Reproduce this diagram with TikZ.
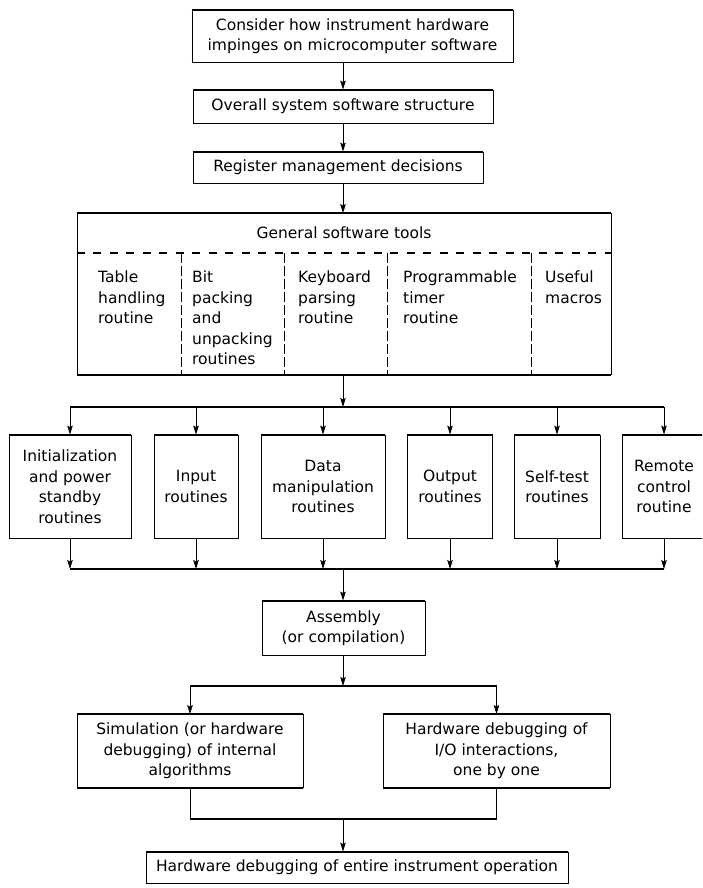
\documentclass[tikz,border=0pt]{standalone}
\usepackage{fontspec}
\setmainfont{DejaVu Sans}
\usetikzlibrary{arrows.meta}
\newcommand{\boxfont}{\fontsize{15.5}{20.5}\selectfont}
\begin{document}
\begin{tikzpicture}[x=1pt,y=-1pt,
  box/.style={draw, line width=0.8pt, inner sep=0pt, align=center, font=\boxfont},
  hedge/.style={line width=1.7pt},
  txt/.style={inner sep=0pt, align=left, font=\boxfont, anchor=north west},
  conn/.style={line width=0.8pt},
  bus/.style={line width=1.6pt},
  arr/.style={line width=0.8pt, -{Stealth[length=9pt,width=5.5pt,inset=1.5pt]}},
  divider/.style={line width=0.6pt, dash pattern=on 10pt off 3pt},
  dashsep/.style={line width=1.6pt, dash pattern=on 8pt off 8.5pt}
]
\clip (0,0) rectangle (702,888);
\fill[white] (0,0) rectangle (702,888);

% spine
\coordinate (sp) at (343,0);

% top chain
\node[box, minimum width=321pt, minimum height=52pt] (b1) at (352.5,36)
  {Consider how instrument hardware\\impinges on microcomputer software};
\node[box, minimum width=300pt, minimum height=33pt] (b2) at (343,106.5)
  {Overall system software structure};
\node[box, minimum width=290pt, minimum height=31pt] (b3) at (338,167.5)
  {Register management decisions};

% general tools box
\node[box, minimum width=534pt, minimum height=161pt] (tools) at (344,294) {};
\node[inner sep=0pt, font=\boxfont] (gst) at (344,233) {General software tools};
\coordinate (dl) at (0,253);
\draw[dashsep] (tools.west |- dl) -- (tools.east |- dl);
\foreach \x in {181,284,387,531}
  \draw[divider] (\x,253) -- (\x,374);
\node[txt] (t1) at (98,271)  {Table\\handling\\routine};
\node[txt] (t2) at (192,271) {Bit\\packing\\and\\unpacking\\routines};
\node[txt] (t3) at (298,271) {Keyboard\\parsing\\routine};
\node[txt] (t4) at (403,271) {Programmable\\timer\\routine};
\node[txt] (t5) at (545,271) {Useful\\macros};

% six routine boxes
\node[box, minimum width=122pt, minimum height=103pt] (r1) at (70,486.5)
  {Initialization\\and power\\standby\\routines};
\node[box, minimum width=84pt, minimum height=103pt] (r2) at (196,486.5)
  {Input\\routines};
\node[box, minimum width=124pt, minimum height=103pt] (r3) at (323,486.5)
  {Data\\manipulation\\routines};
\node[box, minimum width=85pt, minimum height=103pt] (r4) at (450,486.5)
  {Output\\routines};
\node[box, minimum width=86pt, minimum height=103pt] (r5) at (557,486.5)
  {Self-test\\routines};
\node[box, minimum width=84pt, minimum height=103pt] (r6) at (664,486.5)
  {Remote\\control\\routine};

% assembly
\node[box, minimum width=163pt, minimum height=54pt] (asm) at (343.5,628)
  {Assembly\\(or compilation)};

% debugging boxes
\node[box, minimum width=226pt, minimum height=73pt] (sim) at (190,751)
  {Simulation (or hardware\\debugging) of internal\\algorithms};
\node[box, minimum width=227pt, minimum height=73pt] (hw) at (496.5,751)
  {Hardware debugging of\\I/O interactions,\\one by one};

% final
\node[box, minimum width=422pt, minimum height=31pt] (fin) at (357,867.5)
  {Hardware debugging of entire instrument operation};

% thick horizontal edges
\foreach \n in {b1,b2,b3,tools,r1,r2,r3,r4,r5,r6,asm,sim,hw,fin}
  \draw[hedge] (\n.north west) -- (\n.north east) (\n.south west) -- (\n.south east);

% connectors top chain
\draw[arr] (b1.south -| sp) -- (b2.north -| sp);
\draw[arr] (b2.south -| sp) -- (b3.north -| sp);
\draw[arr] (b3.south -| sp) -- (tools.north -| sp);

% bus A
\coordinate (busA) at (0,407);
\draw[arr] (tools.south -| sp) -- (sp |- busA);
\draw[bus] (r1.north |- busA) -- (r6.north |- busA);
\foreach \r in {r1,r2,r3,r4,r5,r6}
  \draw[arr] (\r.north |- busA) -- (\r.north);

% bus B
\coordinate (busB) at (0,569);
\foreach \r in {r1,r2,r3,r4,r5,r6}
  \draw[arr] (\r.south) -- (\r.south |- busB);
\draw[bus] (r1.south |- busB) -- (r6.south |- busB);
\draw[arr] (sp |- busB) -- (asm.north -| sp);

% bus C
\coordinate (busC) at (0,686);
\draw[arr] (asm.south -| sp) -- (sp |- busC);
\draw[bus] (sim.north |- busC) -- (hw.north |- busC);
\draw[arr] (sim.north |- busC) -- (sim.north);
\draw[arr] (hw.north |- busC) -- (hw.north);

% bus D
\coordinate (busD) at (0,819);
\draw[conn] (sim.south) -- (sim.south |- busD);
\draw[conn] (hw.south) -- (hw.south |- busD);
\draw[bus] (sim.south |- busD) -- (hw.south |- busD);
\draw[arr] (sp |- busD) -- (fin.north -| sp);
\end{tikzpicture}
\end{document}
